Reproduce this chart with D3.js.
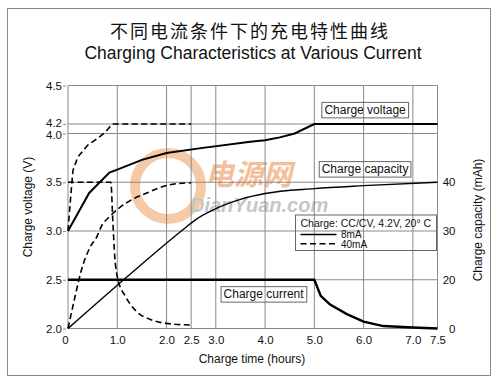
<!DOCTYPE html>
<html>
<head>
<meta charset="utf-8">
<script src="https://cdn.jsdelivr.net/npm/d3@7/dist/d3.min.js"></script>
<style>
  body { margin: 0; background: #fff; }
  text { font-family: "Liberation Sans", Arial, sans-serif; fill: #111; }
</style>
</head>
<body>
<div id="chart"></div>
<script>
// time axis (hours)
var xTicks = [0, 1, 2, 2.5, 3, 4, 5, 6, 7, 7.5];
var xTickLabels = ["0", "1.0", "2.0", "2.5", "3.0", "4.0", "5.0", "6.0", "7.0", "7.5"];
// left axis (V) and right axis (mAh)
var voltTicks = [2.0, 2.5, 3.0, 3.5, 4.0, 4.2, 4.5];
var capTicks = [0, 20, 30, 40];

// [hours, V]
var voltage8 = [[0, 3.0], [0.43, 3.39], [0.84, 3.6], [1.0, 3.63], [1.5, 3.73], [2.0, 3.8], [2.7, 3.85],
  [3.7, 3.915], [4.0, 3.93], [4.3, 3.96], [4.6, 4.0], [4.8, 4.1], [5.0, 4.2], [7.5, 4.2]];
var voltage40 = [[0, 3.0], [0.03, 3.2], [0.1, 3.62], [0.2, 3.76], [0.4, 3.88], [0.6, 3.95], [0.75, 4.02],
  [0.9, 4.2], [2.5, 4.2]];
// [hours, mAh]
var capacity8 = [[0, 0], [1.13, 20], [2.3, 30], [2.6, 32.4], [3.0, 34.6], [3.5, 36.5], [4.0, 37.7],
  [5.0, 38.7], [6.0, 39.3], [7.5, 40]];
var capacity40 = [[0, 0], [0.14, 12.8], [0.27, 21.9], [0.45, 26.7], [0.58, 28.7], [0.68, 31.0], [0.85, 33.0],
  [1.19, 35.8], [1.6, 37.8], [2.07, 39.5], [2.5, 39.9]];
var current8 = [[0, 20], [5.0, 20], [5.13, 13.4], [5.32, 9.8], [5.66, 5.9], [6.0, 2.8], [6.4, 1.0],
  [7.0, 0.4], [7.5, 0]];
var current40 = [[0, 40], [0.87, 40], [0.91, 32], [0.95, 24.6], [1.02, 19.7], [1.16, 13.4], [1.39, 7],
  [1.66, 3.8], [2.0, 2.1], [2.5, 1.4]];

var width = 500, height = 389;

var svg = d3.select("#chart").append("svg")
    .attr("width", width)
    .attr("height", height);

// outer frame
svg.append("rect")
    .attr("x", 7.5).attr("y", 8.5)
    .attr("width", 483).attr("height", 367)
    .attr("fill", "none").attr("stroke", "#8a8a8a");

svg.append("text")
    .attr("x", 250).attr("y", 38)
    .attr("text-anchor", "middle")
    .style("font-family", '"Noto Sans CJK SC", sans-serif')
    .style("font-size", "18px")
    .style("letter-spacing", "2px")
    .text("不同电流条件下的充电特性曲线");

svg.append("text")
    .attr("x", 253).attr("y", 59)
    .attr("text-anchor", "middle")
    .style("font-size", "17.5px")
    .text("Charging Characteristics at Various Current");

var x = d3.scaleLinear().domain([0, 7.5]).range([68, 437.5]);
// the 4.2 line sits just above 4.0 on the original sheet
var yL = d3.scaleLinear().domain([2.0, 4.0, 4.2, 4.5]).range([328.5, 133.5, 124, 85.5]);
var yR = d3.scaleLinear().domain(capTicks).range([yL(2.0), yL(2.5), yL(3.0), yL(3.5)]);

// watermark
var wm = svg.append("g").attr("opacity", 0.55);
wm.append("circle").attr("cx", 168).attr("cy", 186).attr("r", 33)
    .attr("fill", "none").attr("stroke", "#f0a060").attr("stroke-width", 10);
wm.append("text").attr("x", 205).attr("y", 185)
    .style("font-family", '"Noto Sans CJK SC", sans-serif')
    .style("font-size", "29px").style("font-weight", "bold").style("font-style", "italic")
    .style("fill", "#ee8a4a").text("电源网");
wm.append("text").attr("x", 190).attr("y", 212)
    .style("font-size", "20px").style("font-weight", "bold").style("font-style", "italic")
    .style("fill", "#999").text("DianYuan.com");

// grid
var grid = svg.append("g").attr("stroke", "#8a8a8a").attr("stroke-width", 1);
grid.selectAll(".vx").data(xTicks).enter().append("line")
    .attr("x1", d => x(d)).attr("x2", d => x(d))
    .attr("y1", yL(4.5)).attr("y2", yL(2.0));
grid.selectAll(".hy").data(voltTicks).enter().append("line")
    .attr("x1", x(0)).attr("x2", x(7.5))
    .attr("y1", d => yL(d)).attr("y2", d => yL(d));

// axes (labels only)
var axL = svg.append("g").attr("transform", "translate(" + (x(0) - 2) + ",0)")
    .call(d3.axisLeft(yL).tickValues(voltTicks).tickFormat(d3.format(".1f")).tickSize(3));
var axR = svg.append("g").attr("transform", "translate(" + (x(7.5) + 18) + ",0)")
    .call(d3.axisLeft(yR).tickValues(capTicks).tickSize(0));
var axB = svg.append("g").attr("transform", "translate(0," + (yL(2.0) + 2) + ")")
    .call(d3.axisBottom(x).tickValues(xTicks).tickFormat((d, i) => xTickLabels[i]).tickSize(0));
[axL, axR, axB].forEach(function(a) {
  a.select(".domain").remove();
  a.selectAll("line").attr("stroke", "#8a8a8a");
  a.selectAll("text").style("font-size", "11.5px").style("font-family", '"Liberation Sans", Arial, sans-serif').attr("fill", "#222");
});
axL.selectAll("text").attr("x", -4);
axL.selectAll(".tick").filter(d => d === 4.2).select("text").attr("dy", "0.2em");
axL.selectAll(".tick").filter(d => d === 4.0).select("text").attr("dy", "0.42em");
axR.selectAll("text").attr("x", 0);
axB.selectAll("text").attr("dy", "0.9em");
axB.selectAll(".tick").filter(d => d === 0).select("text").attr("dx", -3);

svg.append("text")
    .attr("transform", "translate(32,207) rotate(-90)")
    .attr("text-anchor", "middle")
    .style("font-size", "12px")
    .text("Charge voltage (V)");
svg.append("text")
    .attr("transform", "translate(482,220) rotate(-90)")
    .attr("text-anchor", "middle")
    .style("font-size", "12px")
    .text("Charge capacity (mAh)");
svg.append("text")
    .attr("x", 252).attr("y", 363)
    .attr("text-anchor", "middle")
    .style("font-size", "12px")
    .text("Charge time (hours)");

// curves
var lineV = d3.line().x(d => x(d[0])).y(d => yL(d[1]));
var lineC = d3.line().x(d => x(d[0])).y(d => yR(d[1]));
var lineCs = d3.line().x(d => x(d[0])).y(d => yR(d[1])).curve(d3.curveMonotoneX);

var series = [
  { data: voltage8, gen: lineV, w: 2, dash: null },
  { data: voltage40, gen: lineV, w: 1.6, dash: "6,3.5" },
  { data: capacity8, gen: lineCs, w: 1.4, dash: null },
  { data: capacity40, gen: lineCs, w: 1.6, dash: "6,3.5" },
  { data: current8, gen: lineC, w: 2.4, dash: null },
  { data: current40, gen: lineCs, w: 1.6, dash: "6,3.5" }
];
svg.append("g").selectAll("path").data(series).enter().append("path")
    .attr("d", d => d.gen(d.data))
    .attr("fill", "none")
    .attr("stroke", "#000")
    .attr("stroke-width", d => d.w)
    .attr("stroke-dasharray", d => d.dash);

// boxed labels
function boxLabel(txt, cx, cy) {
  var g = svg.append("g");
  var t = g.append("text").attr("x", cx).attr("y", cy).attr("dy", "0.35em")
      .attr("text-anchor", "middle").style("font-size", "12px").text(txt);
  var b = t.node().getBBox();
  g.insert("rect", "text")
      .attr("x", b.x - 2.5).attr("y", cy - 7.5)
      .attr("width", b.width + 5).attr("height", 15.5)
      .attr("fill", "none").attr("stroke", "#666");
}
boxLabel("Charge voltage", x(6.03), yL(4.31));
boxLabel("Charge capacity", x(6.03), yR(42.7));
boxLabel("Charge current", x(3.97), yR(14.1));

// legend
var lg = svg.append("g");
lg.append("rect")
    .attr("x", 295.5).attr("y", 215).attr("width", 141).attr("height", 35.5)
    .attr("fill", "none").attr("stroke", "#666");
lg.append("text").attr("x", 300.5).attr("y", 226.5)
    .style("font-size", "10.5px").text("Charge: CC/CV, 4.2V, 20°  C");
lg.append("line").attr("x1", 300.5).attr("x2", 336.5).attr("y1", 234.5).attr("y2", 234.5)
    .attr("stroke", "#000").attr("stroke-width", 1.6);
lg.append("line").attr("x1", 300.5).attr("x2", 336.5).attr("y1", 243.8).attr("y2", 243.8)
    .attr("stroke", "#000").attr("stroke-width", 1.6).attr("stroke-dasharray", "6,3.5");
lg.append("text").attr("x", 341).attr("y", 238.3).style("font-size", "10px").text("8mA");
lg.append("text").attr("x", 341).attr("y", 247.8).style("font-size", "10px").text("40mA");
</script>
</body>
</html>
